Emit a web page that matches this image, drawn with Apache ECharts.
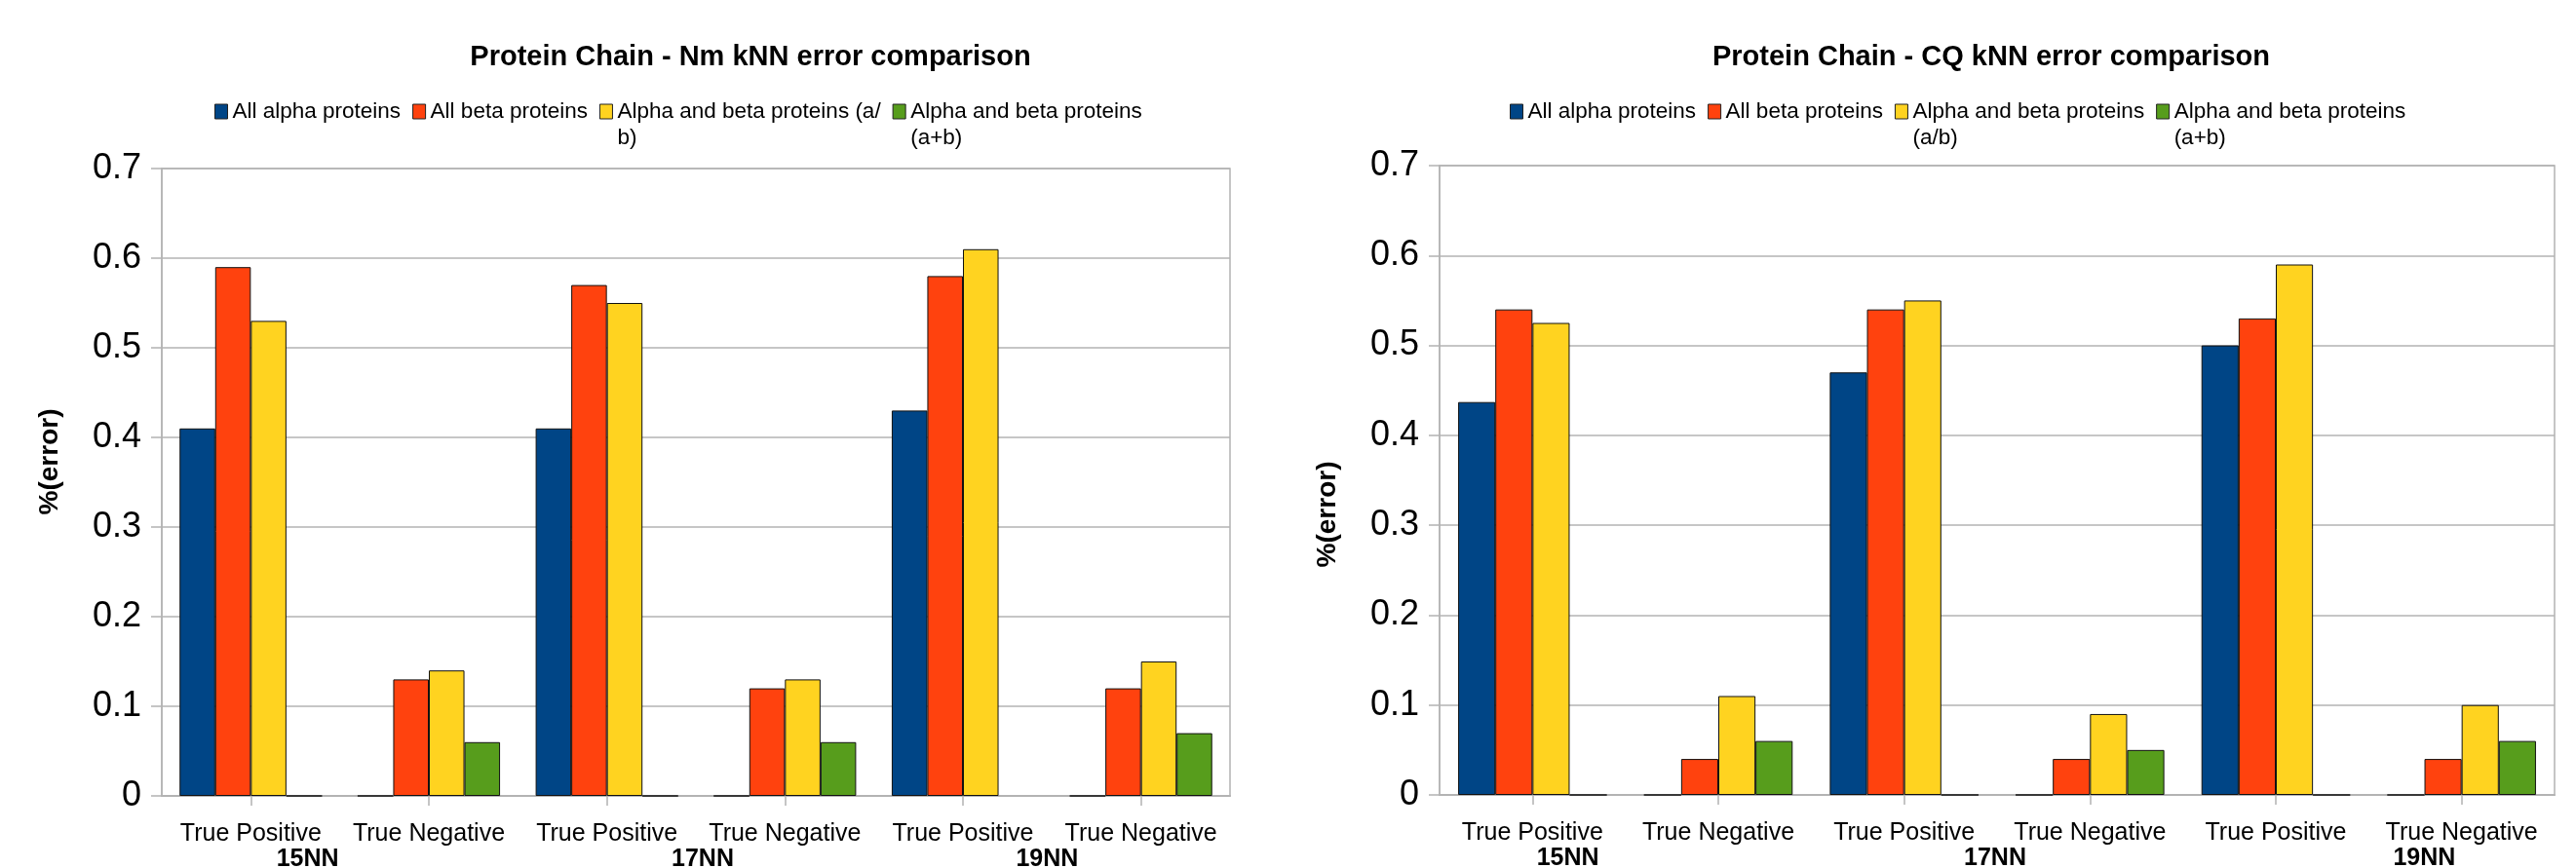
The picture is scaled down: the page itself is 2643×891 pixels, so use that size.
<!DOCTYPE html>
<html>
<head>
<meta charset="utf-8">
<script src="https://cdn.jsdelivr.net/npm/echarts@6/dist/echarts.min.js"></script>
<style>
html,body{margin:0;padding:0;background:#fff;}
#c{width:2643px;height:891px;}
</style>
</head>
<body>
<div id="c"></div>
<script>
// ---- data ----
const categories = ['True Positive','True Negative','True Positive','True Negative','True Positive','True Negative'];
const groups = ['15NN','17NN','19NN'];
const seriesNames = ['All alpha proteins','All beta proteins','Alpha and beta proteins (a/b)','Alpha and beta proteins (a+b)'];
const legendLabelsNm = [' \nAll alpha proteins\n ',' \nAll beta proteins\n ',' \nAlpha and beta proteins (a/\nb)',' \nAlpha and beta proteins\n(a+b)'];
const legendLabelsCq = [' \nAll alpha proteins\n ',' \nAll beta proteins\n ',' \nAlpha and beta proteins\n(a/b)',' \nAlpha and beta proteins\n(a+b)'];
const titleNm = 'Protein Chain - Nm kNN error comparison';
const titleCq = 'Protein Chain - CQ kNN error comparison';
const yAxisName = '%(error)';

const nmAlpha = [0.41, 0, 0.41, 0, 0.43, 0];
const nmBeta  = [0.59, 0.13, 0.57, 0.12, 0.58, 0.12];
const nmAB    = [0.53, 0.14, 0.55, 0.13, 0.61, 0.15];
const nmApB   = [0, 0.06, 0, 0.06, null, 0.07];

const cqAlpha = [0.437, 0, 0.47, 0, 0.50, 0];
const cqBeta  = [0.54, 0.04, 0.54, 0.04, 0.53, 0.04];
const cqAB    = [0.525, 0.11, 0.55, 0.09, 0.59, 0.10];
const cqApB   = [0, 0.06, 0, 0.05, 0, 0.06];

const yMin = 0, yMax = 0.7, yStep = 0.1;

// ---- style ----
const colors = ['#004586','#ff420e','#ffd320','#579d1c'];
const FONT = 'Liberation Sans';
const GRID_C = '#b3b3b3';

const chart = echarts.init(document.getElementById('c'), null, {renderer:'canvas'});

function makeTitle(text, cx){
  return {text: text, left: cx, top: 44, textAlign: 'center', padding: 0,
    textStyle:{fontFamily:FONT, fontSize:29, fontWeight:'bold', color:'#000'}};
}
function makeLegend(labels, left){
  return {
    data: seriesNames, left: left, top: 74, padding: 0,
    itemWidth: 13, itemHeight: 15, itemGap: 12,
    icon: 'rect',
    formatter: function(n){ return labels[seriesNames.indexOf(n)]; },
    textStyle: {fontFamily:FONT, fontSize:22.5, color:'#000', lineHeight:27},
    itemStyle: {borderColor:'#222', borderWidth:1},
    selectedMode: false
  };
}
function yAx(gi, nameShift){
  return {
    type:'value', gridIndex: gi, min:yMin, max:yMax, interval:yStep,
    name: yAxisName, nameLocation:'middle', nameRotate:90, nameGap:101,
    nameTextStyle:{fontFamily:FONT, fontSize:28, fontWeight:'bold', color:'#000', padding: nameShift},
    axisLine:{show:true, lineStyle:{color:GRID_C, width:1.5}},
    axisTick:{show:true, length:11, lineStyle:{color:GRID_C, width:1.5}},
    axisLabel:{fontFamily:FONT, fontSize:36, color:'#000', margin:21,
      formatter: v => (v === 0 ? '0' : v.toFixed(1))},
    splitLine:{show:true, lineStyle:{color:GRID_C, width:1.5}}
  };
}
function xAx(gi){
  return {
    type:'category', gridIndex: gi, data: categories, position:'bottom',
    axisLine:{show:true, lineStyle:{color:GRID_C, width:2}},
    axisTick:{show:true, alignWithLabel:true, length:10, lineStyle:{color:GRID_C, width:1.5}},
    axisLabel:{fontFamily:FONT, fontSize:25, color:'#000', margin:27, interval:0},
    splitLine:{show:false}
  };
}
function xGroupAx(gi, pads){
  const rich = {};
  pads.forEach((p,i)=>{ rich['g'+i] = {fontFamily:FONT, fontSize:25, fontWeight:'bold', color:'#000', padding:p}; });
  return {
    type:'category', gridIndex: gi, data: groups, position:'bottom',
    axisLine:{show:false}, axisTick:{show:false}, splitLine:{show:false},
    axisLabel:{margin:53, interval:0, formatter:(v,i)=>'{g'+i+'|'+v+'}', rich: rich}
  };
}
function bars(gi, arrs){
  return arrs.map((d,k)=>({
    type:'bar', name: seriesNames[k], xAxisIndex: gi*2, yAxisIndex: gi, data: d,
    barGap:'0%', barCategoryGap:'20%',
    itemStyle:{color: colors[k], borderColor:'#111', borderWidth:1},
    emphasis:{disabled:true}, silent:true
  }));
}

const option = {
  animation:false,
  backgroundColor:'#fff',
  color: colors,
  title:[ makeTitle(titleNm, 770), makeTitle(titleCq, 2043) ],
  legend:[ makeLegend(legendLabelsNm, 220), makeLegend(legendLabelsCq, 1549) ],
  grid:[
    {left:166, top:173, width:1096, height:644, show:true, borderColor:GRID_C, borderWidth:1.5, containLabel:false, outerBoundsMode:'none'},
    {left:1477, top:170, width:1144, height:646, show:true, borderColor:GRID_C, borderWidth:1.5, containLabel:false, outerBoundsMode:'none'}
  ],
  xAxis:[
    xAx(0), xGroupAx(0, [[0,66,0,0],[0,0,0,14],[0,10,0,0]]),
    xAx(1), xGroupAx(1, [[0,118,0,0],[0,4,0,0],[0,0,0,114]])
  ],
  yAxis:[ yAx(0, [0,0,0,42]), yAx(1, [0,70,0,0]) ],
  series:[ ...bars(0, [nmAlpha, nmBeta, nmAB, nmApB]), ...bars(1, [cqAlpha, cqBeta, cqAB, cqApB]) ]
};
chart.setOption(option);
</script>
</body>
</html>
